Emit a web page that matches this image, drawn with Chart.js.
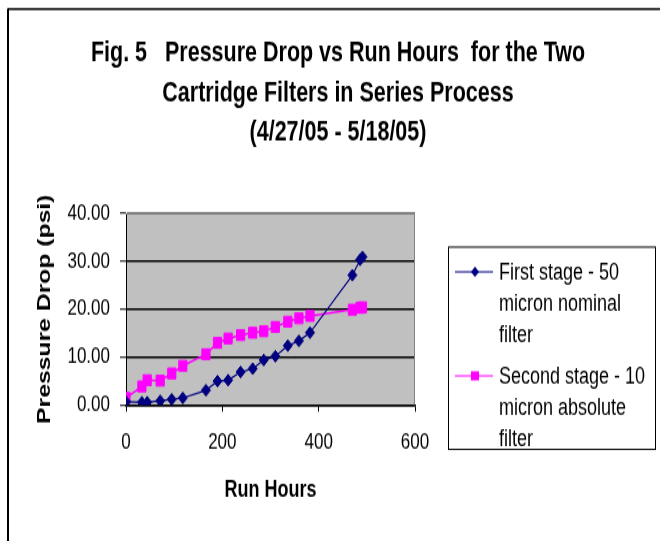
<!DOCTYPE html>
<html>
<head>
<meta charset="utf-8">
<script src="https://cdn.jsdelivr.net/npm/chart.js@4.4.0/dist/chart.umd.min.js"></script>
<style>
  html, body { margin: 0; padding: 0; background: #fff; overflow: hidden; }
  #wrap { width: 660px; height: 541px; }
  /* the original picture is stretched vertically; draw short and stretch */
  #myChart { transform: scaleY(1.3005); transform-origin: 0 0; }
</style>
</head>
<body>
<div id="wrap"><canvas id="myChart" width="660" height="416"></canvas></div>
<script>
// values
const runHours    = [0, 33, 44, 71, 95, 118, 166, 190, 212, 238, 263, 286, 310, 336, 359, 382, 470, 486, 491];
const firstStage  = [0.7, 0.6, 0.6, 0.9, 1.2, 1.5, 3.1, 5.0, 5.2, 6.9, 7.6, 9.4, 10.2, 12.4, 13.4, 15.1, 27.1, 30.3, 30.9];
const secondStage = [1.5, 3.9, 5.2, 5.1, 6.6, 8.2, 10.6, 13.0, 13.9, 14.6, 15.1, 15.4, 16.3, 17.4, 18.1, 18.6, 19.9, 20.3, 20.4];
const xTicks = [0, 200, 400, 600];
const yTicks = [0, 10, 20, 30, 40];
const titleLines = ['Fig. 5   Pressure Drop vs Run Hours  for the Two', 'Cartridge Filters in Series Process', '(4/27/05 - 5/18/05)'];
const xTitle = 'Run Hours';
const yTitle = 'Pressure Drop (psi)';
const seriesNames = ['First stage - 50 micron nominal filter', 'Second stage - 10 micron absolute filter'];
const legendLines = [['First stage - 50', 'micron nominal', 'filter'], ['Second stage - 10', 'micron absolute', 'filter']];

const FONT = '"Liberation Sans", Arial, sans-serif';
const colors = { first: '#000080', second: '#FF00FF', plot: '#C0C0C0', frame: '#808080' };

const toPoints = (ys) => runHours.map((x, i) => ({ x: x, y: ys[i] }));

const plotBg = {
    id: 'plotBg',
    beforeDraw(chart) {
        const { ctx, chartArea: a } = chart;
        ctx.save();
        ctx.fillStyle = colors.plot;
        ctx.fillRect(a.left, a.top, a.right - a.left, a.bottom - a.top);
        ctx.restore();
    },
    beforeDatasetsDraw(chart) {
        const { ctx, chartArea: a } = chart;
        ctx.save();
        ctx.strokeStyle = colors.frame;
        ctx.lineWidth = 1;
        ctx.beginPath();
        ctx.moveTo(a.left, a.top + 0.5);
        ctx.lineTo(a.right - 0.5, a.top + 0.5);
        ctx.lineTo(a.right - 0.5, a.bottom);
        ctx.stroke();
        ctx.restore();
    }
};

const extras = {
    id: 'extras',
    afterDraw(chart) {
        const { ctx, chartArea: a } = chart;
        ctx.save();
        // outer chart frame (only top and left fall inside the crop)
        ctx.strokeStyle = '#000';
        ctx.lineWidth = 1.5;
        ctx.beginPath();
        ctx.moveTo(660, 7);
        ctx.lineTo(8, 7);
        ctx.stroke();
        ctx.lineWidth = 2;
        ctx.beginPath();
        ctx.moveTo(8, 6.5);
        ctx.lineTo(8, 416);
        ctx.stroke();

        // y axis title
        ctx.save();
        ctx.translate(45, (a.top + a.bottom) / 2);
        ctx.rotate(-Math.PI / 2);
        ctx.font = 'bold 19px ' + FONT;
        ctx.fillStyle = '#000';
        ctx.textAlign = 'center';
        ctx.textBaseline = 'middle';
        ctx.fillText(yTitle, 0, 0);
        ctx.restore();

        // legend
        ctx.strokeStyle = '#000';
        ctx.lineWidth = 1;
        ctx.strokeRect(448.5, 190, 207, 155.5);
        const dsColors = [colors.first, colors.second];
        ctx.font = '18px ' + FONT;
        ctx.textBaseline = 'middle';
        ctx.textAlign = 'left';
        legendLines.forEach((lines, i) => {
            const y0 = 209 + i * 80;
            ctx.strokeStyle = dsColors[i];
            ctx.lineWidth = 1.2;
            ctx.beginPath();
            ctx.moveTo(455, y0);
            ctx.lineTo(493, y0);
            ctx.stroke();
            ctx.fillStyle = dsColors[i];
            ctx.beginPath();
            if (i === 0) {
                ctx.moveTo(475, y0 - 4); ctx.lineTo(479, y0); ctx.lineTo(475, y0 + 4); ctx.lineTo(471, y0);
            } else {
                ctx.rect(471, y0 - 3.5, 8, 7);
            }
            ctx.closePath();
            ctx.fill();
            ctx.fillStyle = '#000';
            lines.forEach((t, k) => ctx.fillText(t, 499, y0 + 1 + k * 23.8));
        });
        ctx.restore();
    }
};

new Chart(document.getElementById('myChart'), {
    type: 'line',
    data: {
        datasets: [{
            label: seriesNames[0],
            data: toPoints(firstStage),
            borderColor: colors.first,
            backgroundColor: colors.first,
            borderWidth: 1.2,
            pointStyle: 'rectRot',
            pointRadius: 4.5,
            pointBorderWidth: 1,
            tension: 0
        }, {
            label: seriesNames[1],
            data: toPoints(secondStage),
            borderColor: colors.second,
            backgroundColor: colors.second,
            borderWidth: 1.5,
            pointStyle: 'rect',
            pointRadius: 5.8,
            pointBorderWidth: 1,
            tension: 0
        }]
    },
    options: {
        responsive: false,
        animation: false,
        layout: { padding: { left: 16, right: 0, top: 0, bottom: 0 } },
        scales: {
            x: {
                type: 'linear',
                min: 0,
                max: 600,
                afterBuildTicks: (s) => { s.ticks = xTicks.map(v => ({ value: v })); },
                afterFit: (s) => { s.height = 104.5; },
                grid: { drawOnChartArea: false, drawTicks: true, tickLength: 5, color: '#000', tickWidth: 1 },
                border: { display: true, color: '#000', width: 1.5 },
                ticks: { color: '#000', padding: 13.5, font: { family: FONT, size: 17 }, maxRotation: 0 },
                title: { display: true, text: xTitle, color: '#000', font: { family: FONT, size: 18, weight: 'bold' }, padding: { top: 0, bottom: 28 } }
            },
            y: {
                min: 0,
                max: 40,
                afterBuildTicks: (s) => { s.ticks = yTicks.map(v => ({ value: v })); },
                afterFit: (s) => { s.width = 110; },
                grid: {
                    color: (c) => c.tick && c.tick.value === 40 ? colors.frame : '#000',
                    lineWidth: 1.5,
                    tickColor: '#000',
                    tickWidth: 1,
                    tickLength: 6
                },
                border: { display: true, color: '#000', width: 1 },
                ticks: { color: '#000', padding: 10, font: { family: FONT, size: 17 }, callback: (v) => Number(v).toFixed(2) }
            },
            pad: {
                type: 'linear',
                position: 'right',
                display: true,
                afterFit: (s) => { s.width = 245; },
                grid: { display: false },
                border: { display: false },
                ticks: { display: false }
            }
        },
        plugins: {
            legend: { display: false },
            tooltip: { enabled: false },
            title: {
                display: true,
                text: titleLines,
                color: '#000',
                font: { family: FONT, size: 21.5, weight: 'bold', lineHeight: 1.4 },
                padding: { top: 26.5, bottom: 47.2 }
            }
        }
    },
    plugins: [plotBg, extras]
});
</script>
</body>
</html>
